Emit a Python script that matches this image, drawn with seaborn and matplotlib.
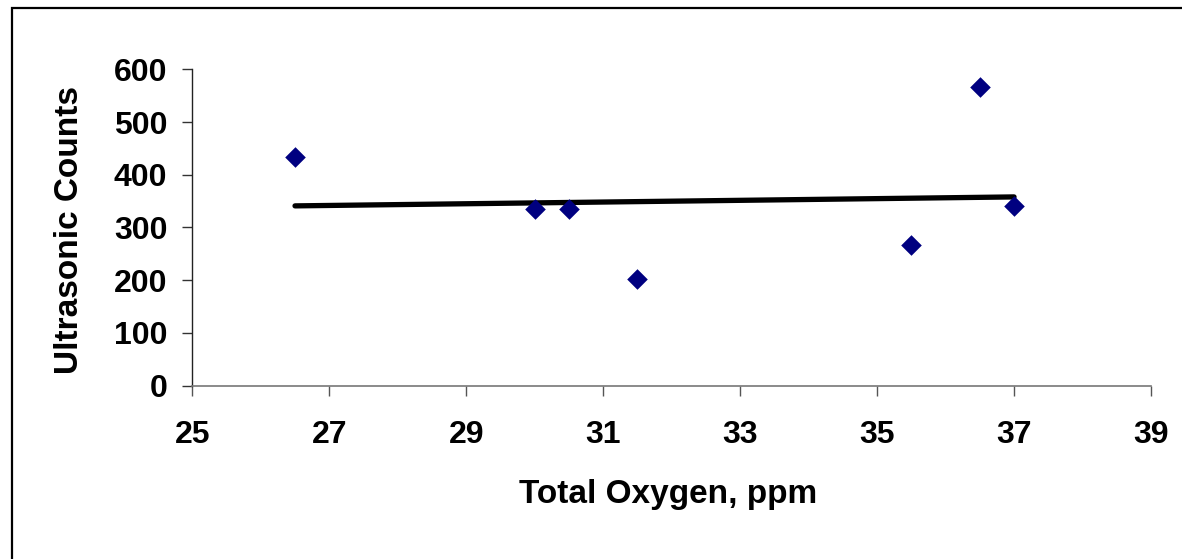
import matplotlib
matplotlib.use("Agg")
import matplotlib.pyplot as plt
import matplotlib.patches as patches
import seaborn as sns
import pandas as pd

# Data
oxygen_ppm = [26.5, 30.0, 30.5, 31.5, 35.5, 36.5, 37.0]
ultrasonic_counts = [433, 335, 335, 202, 266, 566, 341]
trend_x = [26.5, 37.0]
trend_y = [341, 358]
x_ticks = [25, 27, 29, 31, 33, 35, 37, 39]
y_ticks = [0, 100, 200, 300, 400, 500, 600]

sns.set_theme(style="white")
plt.rcParams['font.family'] = ['Liberation Sans', 'DejaVu Sans']

df = pd.DataFrame({"x": oxygen_ppm, "y": ultrasonic_counts})
tdf = pd.DataFrame({"x": trend_x, "y": trend_y})

fig = plt.figure(figsize=(11.82, 5.59), dpi=100)
ax = fig.add_axes([192.3 / 1182, 1 - 385.7 / 559, (1151 - 192.3) / 1182, (385.7 - 69.3) / 559])

sns.lineplot(data=tdf, x="x", y="y", ax=ax, color="black", linewidth=3.8,
             solid_capstyle="round", zorder=2)
sns.scatterplot(data=df, x="x", y="y", ax=ax, marker="D", s=110, color="#000080",
                linewidth=0, zorder=3)

ax.set_xlim(25, 39)
ax.set_ylim(0, 600)
ax.set_xticks(x_ticks)
ax.set_yticks(y_ticks)
ax.set_xticklabels([str(v) for v in x_ticks])
ax.set_yticklabels([str(v) for v in y_ticks])

for s in ["top", "right"]:
    ax.spines[s].set_visible(False)
ax.spines["left"].set_color("#222222")
ax.spines["left"].set_linewidth(1.0)
ax.spines["bottom"].set_color("#777777")
ax.spines["bottom"].set_linewidth(1.2)

ax.tick_params(axis="x", direction="out", length=7, width=1, color="#555555",
               pad=18, labelsize=23, bottom=True)
ax.tick_params(axis="y", direction="out", length=7, width=1, color="#333333",
               pad=11, labelsize=23, left=True)
for lab in ax.get_xticklabels() + ax.get_yticklabels():
    lab.set_fontweight("bold")
    lab.set_color("black")

ax.set_xlabel("Total Oxygen, ppm", fontsize=24, fontweight="bold", color="black")
ax.set_ylabel("Ultrasonic Counts", fontsize=24, fontweight="bold", color="black")
ax.xaxis.set_label_coords(0.496, -0.295)
ax.xaxis.label.set_verticalalignment("top")
ax.yaxis.set_label_coords(-0.112, 0.492)

rect = patches.Rectangle((12 / 1182, -0.2), 1.5, 1.2 - 8 / 559, transform=fig.transFigure,
                         fill=False, edgecolor="black", linewidth=1.6)
fig.patches.append(rect)

fig.savefig("out.png", dpi=100)
